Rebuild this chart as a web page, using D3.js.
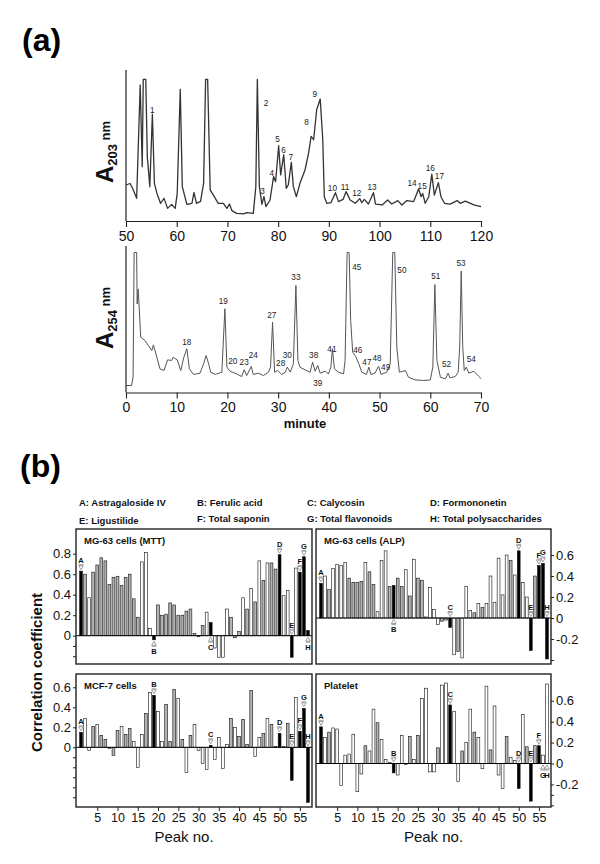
<!DOCTYPE html>
<html><head><meta charset="utf-8">
<script src="https://cdn.jsdelivr.net/npm/d3@7"></script>
<style>
body{margin:0;background:#fff;}
svg{display:block;font-family:"Liberation Sans",Arial,sans-serif;}
</style></head><body>
<svg id="fig" width="600" height="864"></svg>
<script>
// ---------- (a) chromatograms ----------
const topTicks = [50,60,70,80,90,100,110,120];
const botTicks = [0,10,20,30,40,50,60,70];
const topTime = [50,50.8,51.3,52.1,52.8,53.2,53.4,53.9,54.2,54.7,55.2,55.6,56.1,56.8,57.5,58.2,59.0,59.7,60.1,60.7,61.1,62.0,63.0,63.4,63.9,64.7,65.3,65.7,66.1,66.6,67.4,68.2,69.2,69.9,70.4,70.9,71.8,73.2,73.8,75.1,75.6,75.9,76.3,76.8,77.2,77.6,78.4,79.1,79.5,80.1,80.5,81.1,81.6,82.0,82.6,83.0,83.6,84.3,85.3,86.0,86.5,87.0,87.6,88.3,88.8,89.1,89.6,90.4,91.3,91.9,92.8,93.4,94.2,95.2,96.1,96.5,97.0,97.8,98.8,99.2,100.5,101.6,102.4,103.6,104.4,105.4,106.7,107.7,108.2,108.5,109.0,109.7,110.3,110.8,111.6,112.1,112.8,113.9,115.3,115.9,116.9,118.6,120];
const topAbs = [24,25,21.8,15.1,90.7,36.2,94.4,94.4,42.9,22.9,71.3,25.1,18.4,11.8,15.1,8.4,11.1,8.4,18.4,87.8,22.9,11.1,11.8,19.1,11.8,13.1,25.1,94.4,94.4,20.7,16.2,11.8,11.8,8.4,11.3,6.9,5.1,4.7,5.6,5.1,22.9,94.4,22.9,11.1,16.2,9.6,14.0,29.6,26.2,50.2,30.7,44.2,21.8,24,39.1,22.9,16.2,25.1,34,45.3,56.4,54.2,74.2,81.3,54.2,16.2,11.8,12.2,18.9,12.9,14.4,19.6,14,11.8,14.9,12.2,14.4,11.3,18.9,11.3,10.7,14,11.3,13.6,10.7,13.6,12.9,21.3,16.2,18.4,11.8,16.2,31.3,17.3,25.6,16.2,11.8,11.3,13.6,11.8,13.3,10.7,9.6];
const topPeakNames = ["1","2","3","4","5","6","7","8","9","10","11","12","13","14","15","16","17"];
const topPeakT = [55.2,77.6,76.9,78.75,79.9,81.05,82.5,85.6,87.2,90.7,93.2,95.5,98.5,106.4,108.4,110.0,111.8];
const topPeakV = [74,78.4,19.6,31.8,54.4,47.3,42.4,66.2,84.4,22.2,22.9,18.9,22.4,25.1,23.3,35.1,30];

const botTime = [0,1.1,1.4,1.6,2.1,2.2,2.4,2.6,2.9,3.75,4.4,5.1,5.4,5.9,6.7,7.5,8.2,9.0,9.3,10.1,10.8,11.4,12.0,12.5,13.3,14.6,15.3,15.8,16.3,16.7,17.6,18.9,19.5,19.9,20.5,21.8,22.8,23.3,23.8,24.7,25.1,26.1,27.1,28.1,28.5,28.9,29.3,29.9,30.7,31.4,31.8,32.4,33.0,33.5,33.9,34.3,35.3,36.3,36.8,37.3,37.8,38.3,39.3,39.9,40.4,40.7,41.1,41.9,42.9,43.2,43.6,44.0,44.3,44.7,45.3,45.9,46.5,47.4,47.9,48.3,49.1,49.8,50.3,51.4,52.1,52.6,53.0,53.4,53.9,55.1,55.7,57.0,58.7,60.0,60.5,60.9,61.3,62.0,63.0,63.5,63.9,64.9,65.5,65.8,66.1,66.4,66.7,67.1,67.6,68.6,69.6,70];
const botAbs = [5,5,10.9,100,100,63.3,74,61,39.5,37.1,33.6,30,34,27.6,16.9,15.7,23.3,22.9,25.2,23.3,15.7,25.2,31.2,16.9,12.9,13.8,20.5,26.4,20.5,14.5,12.9,14.5,59.8,18.1,15.2,13.3,11.4,16.2,12.1,18.6,12.9,13.8,12.1,14.5,18.1,50.2,14.5,15.7,12.9,14.5,18.1,14.5,20.5,76.4,22.9,18.1,16.2,14.5,21.7,15.2,19.3,13.8,15.2,13.3,18.1,31.2,16.9,14.5,13.3,22.9,100,100,51.4,28.8,25.7,20.5,14.5,12.9,18.1,12.9,13.8,18.8,12.9,14.5,20.5,100,100,32.4,14.5,15.7,10.9,9,8.6,9,18.1,77.1,22.9,10.9,9.8,13.8,10.5,11.4,14.5,32.4,86.7,32.4,15.7,18.1,13.8,15.2,11.4,9.8];
const botPeakNames = ["18","19","20","23","24","27","28","30","33","38","39","41","45","46","47","48","49","50","51","52","53","54"];
const botPeakT = [12.0,19.2,21.05,23.3,25.1,28.75,30.5,31.8,33.5,37.0,37.8,40.6,45.5,45.7,47.5,49.5,51.2,54.4,61.1,63.2,66.05,68.1];
const botPeakV = [35.9,65.2,22.4,21.9,26.7,55,20.9,26.4,82.4,26.7,6.7,31.2,89.5,30.5,21.9,24.2,17.8,87.1,82.9,20.5,92.4,23.8];

// ---------- (b) correlation bars ----------
const legendRow1 = ["A: Astragaloside IV","B: Ferulic acid","C:  Calycosin","D:  Formononetin"];
const legendRow2 = ["E: Ligustilide","F: Total saponin","G: Total flavonoids","H: Total polysaccharides"];
const compoundLetters = ["A","B","C","D","E","F","G","H"];
const compoundPos = [1,19,33,50,53,55,56,57];
const peakNo = d3.range(1,58);
const peakTicks = [5,10,15,20,25,30,35,40,45,50,55];

const mttValues = [0.63,0.60,0.37,0.62,0.69,0.76,0.73,0.50,0.57,0.58,0.49,0.57,0.60,0.36,0.18,0.72,0.81,0.07,-0.04,0.30,0.20,0.21,0.32,0.30,0.20,0.20,0.24,0.26,0.02,-0.01,0.10,0.23,0.13,-0.12,-0.21,-0.21,0.26,0.18,-0.02,0.04,0.37,0.26,0.46,0.33,0.73,0.54,0.71,0.71,0.65,0.79,0.39,0.44,-0.21,0.66,0.62,0.77,0.05];
const alpValues = [0.33,0.40,0.27,0.47,0.51,0.50,0.53,0.38,0.34,0.34,0.35,0.53,0.44,0.32,0.06,0.55,0.64,0.30,0.31,0.38,0.30,0.46,0.21,0.56,0.38,0.36,0.01,0.29,0.08,-0.06,-0.03,-0.02,-0.09,-0.35,-0.32,-0.38,0.30,0.07,0.05,0.14,0.10,0.14,0.40,0.15,0.57,0.22,0.60,0.55,0.41,0.64,0.34,0.20,-0.31,0.40,0.50,0.52,-0.39];
const mcfValues = [0.15,0.29,-0.03,0.21,0.23,0.12,0.08,-0.01,-0.08,0.17,0.21,0.13,0.19,0.06,-0.20,0.13,0.34,0.55,0.52,0.36,0.06,0.43,0.06,0.58,0.49,0.08,-0.25,0.12,0.23,-0.03,-0.16,-0.22,0.02,-0.12,0.10,-0.21,0.03,0.29,0.20,0.11,0.28,0.03,0.57,-0.09,0.10,0.14,0.29,0.23,0.01,0.14,0.01,0.24,-0.33,0.50,0.16,0.39,-0.55];
const pltValues = [0.35,0.25,0.30,0.34,0.33,-0.21,0.08,0.09,0.28,-0.27,-0.10,0.17,0.12,0.52,0.39,0.23,0.04,0.01,-0.09,-0.11,0.27,-0.01,0.26,0.04,0.27,0.62,0.72,-0.08,-0.08,0.15,0.75,0.77,0.56,0.50,-0.17,0.12,0.20,0.52,0.30,0.25,-0.05,0.74,0.13,0.55,-0.11,-0.24,0.26,0.06,0.03,-0.24,0.47,0.16,-0.36,0.17,0.17,0.08,0.76];

// bar type per peak: k = compound (black), g = grey, w = white
const mttFill = "kgwggggggg"+"gggggwwwkg"+"gggggggggg"+"gwkwwwwggg"+"wgwgwgwggk"+"wwkwkkk";
const alpFill = "kwgwwwwggg"+"gwggwwwgkg"+"gwgwggwwww"+"ggkwgwwwgw"+"gwwwwwwgwk"+"wwkgkkk";
const mcfFill = "kwwgwggggg"+"wggwwwgwkw"+"wgggwgwgww"+"wwkwwwwgwg"+"gggwwgwggk"+"wgkwkkk";
const pltFill = "kwgwwwwwww"+"wgwwgwwwkw"+"wwgwgwwwwg"+"wwkwwgwwgw"+"wwgwwwgwwk"+"wgkgkww";
// marker placement: u = above bar/zero, d = below bar/zero
const mttSide = ["u","d","d","u","u","u","u","d"];
const alpSide = ["u","d","u","u","u","u","u","u"];
const mcfSide = ["u","u","u","u","u","u","u","u"];
const pltSide = ["u","u","u","u","u","u","d","d"];

const mttTickVals = [0,0.2,0.4,0.6,0.8,-0.1,-0.2];
const mttTickLabs = ["0","0.2","0.4","0.6","0.8","",""];
const alpTickVals = [-0.2,0,0.2,0.4,0.6,-0.4];
const alpTickLabs = ["-0.2","0","0.2","0.4","0.6",""];
const mcfTickVals = [0,0.2,0.4,0.6,-0.1,-0.2,-0.3,-0.4,-0.5];
const mcfTickLabs = ["0","0.2","0.4","0.6","","","","",""];
const pltTickVals = [-0.2,0,0.2,0.4,0.6,-0.3,-0.4];
const pltTickLabs = ["-0.2","0","0.2","0.4","0.6","",""];

// ================= drawing =================
const svg = d3.select("#fig");
svg.append("rect").attr("width",600).attr("height",864).attr("fill","#fff");

svg.append("text").attr("x",22).attr("y",51).attr("font-size",32).attr("font-weight","bold").text("(a)");
svg.append("text").attr("x",20).attr("y",477).attr("font-size",32).attr("font-weight","bold").text("(b)");

function chrom(cfg){
  const x = d3.scaleLinear().domain(cfg.xDomain).range([126,481]);
  const y = d3.scaleLinear().domain([0,100]).range([cfg.y0,cfg.y1]);
  const g = svg.append("g");
  g.append("line").attr("x1",126).attr("x2",126).attr("y1",cfg.axisTop).attr("y2",cfg.y0)
    .attr("stroke","#222").attr("stroke-width",1.2);
  const ax = g.append("g").attr("transform",`translate(0,${cfg.y0})`)
    .call(d3.axisBottom(x).tickValues(cfg.ticks).tickSize(6).tickSizeOuter(0).tickPadding(4).tickFormat(d3.format("d")));
  ax.select(".domain").attr("stroke","#222").attr("stroke-width",1.2);
  ax.selectAll(".tick line").attr("stroke","#222").attr("stroke-width",1.1);
  ax.selectAll("text").attr("font-size",14).attr("fill","#111").attr("font-family","Liberation Sans, Arial, sans-serif");
  const pts = cfg.t.map((t,i)=>[t,cfg.a[i]]);
  g.append("path").datum(pts)
    .attr("d",d3.line().x(d=>x(d[0])).y(d=>y(d[1])))
    .attr("fill","none").attr("stroke",cfg.color).attr("stroke-width",cfg.lw).attr("stroke-linejoin","round");
  g.selectAll("text.pk").data(cfg.names).enter().append("text").attr("class","pk")
    .attr("x",(d,i)=>x(cfg.pt[i])).attr("y",(d,i)=>y(cfg.pv[i])).attr("dy","0.35em")
    .attr("text-anchor","middle").attr("font-size",8.2).attr("fill","#222").text(d=>d);
  const tt = g.append("text").attr("transform",`translate(113,${cfg.titleY}) rotate(-90)`)
    .attr("text-anchor","middle").attr("font-weight","bold").attr("fill","#111");
  tt.append("tspan").attr("font-size",24).text("A");
  tt.append("tspan").attr("font-size",13).attr("dy",4).text(cfg.sub);
  tt.append("tspan").attr("font-size",13).attr("dy",-7).text(" nm");
  return x;
}
chrom({xDomain:[50,120],y0:221,y1:71,axisTop:70,ticks:topTicks,t:topTime,a:topAbs,color:"#333",lw:1.3,
  names:topPeakNames,pt:topPeakT,pv:topPeakV,titleY:152,sub:"203"});
chrom({xDomain:[0,70],y0:392.5,y1:252.5,axisTop:246,ticks:botTicks,t:botTime,a:botAbs,color:"#555",lw:1.0,
  names:botPeakNames,pt:botPeakT,pv:botPeakV,titleY:318,sub:"254"});
svg.append("text").attr("x",305).attr("y",428).attr("text-anchor","middle").attr("font-size",13)
  .attr("font-weight","bold").attr("fill","#111").text("minute");

// legend
const legX = [79,197,307,430];
const leg = svg.append("g").attr("font-weight","bold").attr("font-size",9.5).attr("fill","#111").style("white-space","pre");
legendRow1.forEach((s,i)=>leg.append("text").attr("x",legX[i]).attr("y",506).text(s));
legendRow2.forEach((s,i)=>leg.append("text").attr("x",legX[i]).attr("y",i===0?523.5:521.5).text(s));

const panels = [
  {title:"MG-63 cells (MTT)",vals:mttValues,fill:mttFill,side:mttSide,box:[76,312,529,664],dom:[-0.276,1.041],axis:"left",tv:mttTickVals,tl:mttTickLabs,xa:false},
  {title:"MG-63 cells (ALP)",vals:alpValues,fill:alpFill,side:alpSide,box:[316,551,529,664],dom:[-0.438,0.848],axis:"right",tv:alpTickVals,tl:alpTickLabs,xa:false},
  {title:"MCF-7 cells",vals:mcfValues,fill:mcfFill,side:mcfSide,box:[76,312,674,807],dom:[-0.597,0.733],axis:"left",tv:mcfTickVals,tl:mcfTickLabs,xa:true},
  {title:"Platelet",vals:pltValues,fill:pltFill,side:pltSide,box:[316,551,674,807],dom:[-0.416,0.856],axis:"right",tv:pltTickVals,tl:pltTickLabs,xa:true}
];
const fillColor = {k:"#000",g:"#b4b4b4",w:"#fff"};

panels.forEach(P=>{
  const [x0,x1,yT,yB] = P.box;
  const x = d3.scaleLinear().domain([0,58]).range([x0+1,x1]);
  const y = d3.scaleLinear().domain(P.dom).range([yB,yT]);
  const g = svg.append("g");
  const bw = 2.8;
  g.selectAll("rect.bar").data(peakNo).enter().append("rect").attr("class","bar")
    .attr("x",p=>x(p)-bw/2).attr("width",bw)
    .attr("y",p=>y(Math.max(P.vals[p-1],0)))
    .attr("height",p=>Math.max(0.6,Math.abs(y(P.vals[p-1])-y(0))))
    .attr("fill",p=>fillColor[P.fill[p-1]]).attr("stroke","#111").attr("stroke-width",0.6);
  g.append("line").attr("x1",x0).attr("x2",x1).attr("y1",y(0)).attr("y2",y(0)).attr("stroke","#000").attr("stroke-width",1);
  g.append("rect").attr("x",x0).attr("y",yT).attr("width",x1-x0).attr("height",yB-yT)
    .attr("fill","none").attr("stroke","#222").attr("stroke-width",1.4);
  g.append("text").attr("x",x0+8).attr("y",yT+14.5).attr("font-size",9.5).attr("font-weight","bold").attr("fill","#111").text(P.title);
  compoundLetters.forEach((L,i)=>{
    const p = compoundPos[i], v = P.vals[p-1], cx = x(p);
    const m = g.append("g");
    if(P.side[i]==="u"){
      const yb = y(Math.max(v,0)) - 1.5;
      m.append("path").attr("d",`M${cx-2.3},${yb-4}L${cx+2.3},${yb-4}L${cx},${yb}Z`).attr("fill","#fff").attr("stroke","#888").attr("stroke-width",0.8);
      m.append("line").attr("x1",cx-2.3).attr("x2",cx+2.3).attr("y1",yb-5).attr("y2",yb-5).attr("stroke","#888").attr("stroke-width",0.8);
      m.append("text").attr("x",cx).attr("y",yb-6.5).attr("text-anchor","middle").attr("font-size",7.5).attr("font-weight","bold").attr("fill","#111").text(L);
    } else {
      const yb = y(Math.min(v,0)) + 1.5;
      m.append("path").attr("d",`M${cx-2.3},${yb+4}L${cx+2.3},${yb+4}L${cx},${yb}Z`).attr("fill","#fff").attr("stroke","#888").attr("stroke-width",0.8);
      m.append("line").attr("x1",cx-2.3).attr("x2",cx+2.3).attr("y1",yb+5).attr("y2",yb+5).attr("stroke","#888").attr("stroke-width",0.8);
      m.append("text").attr("x",cx).attr("y",yb+12.5).attr("text-anchor","middle").attr("font-size",7.5).attr("font-weight","bold").attr("fill","#111").text(L);
    }
  });
  const fmt = v=>P.tl[P.tv.indexOf(v)];
  const axis = (P.axis==="left"?d3.axisLeft(y):d3.axisRight(y)).tickValues(P.tv).tickFormat(fmt).tickSize(3).tickSizeOuter(0).tickPadding(2);
  const ag = g.append("g").attr("transform",`translate(${P.axis==="left"?x0:x1},0)`).call(axis);
  ag.select(".domain").remove();
  ag.selectAll(".tick line").attr("stroke","#222");
  ag.selectAll("text").attr("font-size",13).attr("fill","#111").attr("font-family","Liberation Sans, Arial, sans-serif");
  if(P.xa){
    const xg = g.append("g").attr("transform",`translate(0,${yB})`)
      .call(d3.axisBottom(x).tickValues(peakTicks).tickSize(4).tickSizeOuter(0).tickPadding(2));
    xg.select(".domain").remove();
    xg.selectAll(".tick line").attr("stroke","#222");
    xg.selectAll("text").attr("font-size",12.5).attr("fill","#111").attr("font-family","Liberation Sans, Arial, sans-serif");
    g.append("text").attr("x",(x0+x1)/2+(P.axis==="left"?-10:0)).attr("y",842).attr("text-anchor","middle")
      .attr("font-size",15).attr("fill","#111").text("Peak no.");
  }
});
svg.append("text").attr("transform","translate(42,672.5) rotate(-90)").attr("text-anchor","middle")
  .attr("font-size",15).attr("font-weight","bold").attr("fill","#111").text("Correlation coefficient");
</script>
</body></html>
